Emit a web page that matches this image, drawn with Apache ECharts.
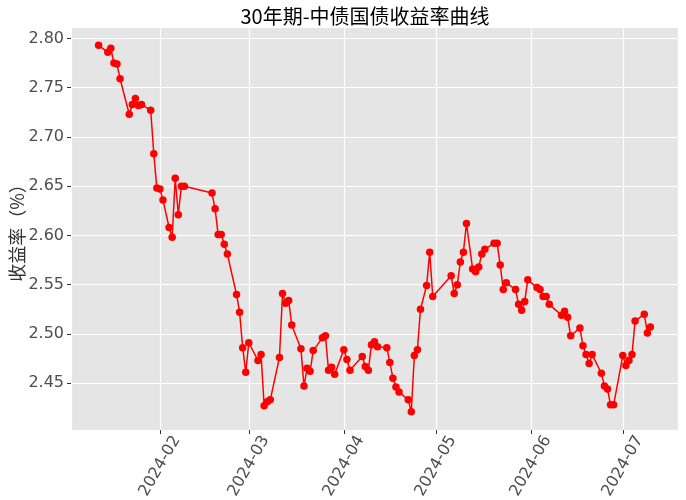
<!DOCTYPE html>
<html lang="zh-CN">
<head>
    <meta charset="UTF-8">
    <title>30年期-中债国债收益率曲线</title>
    <script src="https://cdn.jsdelivr.net/npm/echarts@6.0.0/dist/echarts.min.js"></script>
    <style>
        * { margin: 0; padding: 0; }
        body { background: #ffffff; }
        #chart { width: 686px; height: 500px; }
    </style>
</head>
<body>
    <div id="chart"></div>
    <script>
        // 交易日
        var dates = [
            '2024-01-12', '2024-01-15', '2024-01-16', '2024-01-17', '2024-01-18', '2024-01-19',
            '2024-01-22', '2024-01-23', '2024-01-24', '2024-01-25', '2024-01-26',
            '2024-01-29', '2024-01-30', '2024-01-31', '2024-02-01', '2024-02-02',
            '2024-02-04', '2024-02-05', '2024-02-06', '2024-02-07', '2024-02-08', '2024-02-09',
            '2024-02-18', '2024-02-19', '2024-02-20', '2024-02-21', '2024-02-22', '2024-02-23',
            '2024-02-26', '2024-02-27', '2024-02-28', '2024-02-29', '2024-03-01',
            '2024-03-04', '2024-03-05', '2024-03-06', '2024-03-07', '2024-03-08',
            '2024-03-11', '2024-03-12', '2024-03-13', '2024-03-14', '2024-03-15',
            '2024-03-18', '2024-03-19', '2024-03-20', '2024-03-21', '2024-03-22',
            '2024-03-25', '2024-03-26', '2024-03-27', '2024-03-28', '2024-03-29',
            '2024-04-01', '2024-04-02', '2024-04-03',
            '2024-04-07', '2024-04-08', '2024-04-09', '2024-04-10', '2024-04-11', '2024-04-12',
            '2024-04-15', '2024-04-16', '2024-04-17', '2024-04-18', '2024-04-19',
            '2024-04-22', '2024-04-23', '2024-04-24', '2024-04-25', '2024-04-26',
            '2024-04-28', '2024-04-29', '2024-04-30',
            '2024-05-06', '2024-05-07', '2024-05-08', '2024-05-09', '2024-05-10', '2024-05-11',
            '2024-05-13', '2024-05-14', '2024-05-15', '2024-05-16', '2024-05-17',
            '2024-05-20', '2024-05-21', '2024-05-22', '2024-05-23', '2024-05-24',
            '2024-05-27', '2024-05-28', '2024-05-29', '2024-05-30', '2024-05-31',
            '2024-06-03', '2024-06-04', '2024-06-05', '2024-06-06', '2024-06-07',
            '2024-06-11', '2024-06-12', '2024-06-13', '2024-06-14',
            '2024-06-17', '2024-06-18', '2024-06-19', '2024-06-20', '2024-06-21',
            '2024-06-24', '2024-06-25', '2024-06-26', '2024-06-27', '2024-06-28',
            '2024-07-01', '2024-07-02', '2024-07-03', '2024-07-04', '2024-07-05',
            '2024-07-08', '2024-07-09', '2024-07-10'
        ];

        // 收益率（%）
        var yields = [
            2.793, 2.786, 2.790, 2.775, 2.774, 2.759,
            2.723, 2.733, 2.739, 2.732, 2.733,
            2.727, 2.683, 2.648, 2.647, 2.636,
            2.608, 2.598, 2.658, 2.621, 2.650, 2.650,
            2.643, 2.627, 2.601, 2.601, 2.591, 2.581,
            2.540, 2.522, 2.486, 2.461, 2.491,
            2.473, 2.479, 2.427, 2.431, 2.433,
            2.476, 2.541, 2.531, 2.534, 2.509,
            2.485, 2.447, 2.465, 2.462, 2.483,
            2.496, 2.498, 2.463, 2.466, 2.459,
            2.484, 2.474, 2.463,
            2.477, 2.467, 2.463, 2.489, 2.492, 2.487,
            2.486, 2.471, 2.455, 2.446, 2.441,
            2.433, 2.421, 2.478, 2.484, 2.525,
            2.549, 2.583, 2.538,
            2.559, 2.541, 2.550, 2.573, 2.583, 2.612,
            2.566, 2.563, 2.568, 2.581, 2.586,
            2.592, 2.592, 2.570, 2.545, 2.552,
            2.545, 2.530, 2.524, 2.533, 2.555,
            2.547, 2.545, 2.538, 2.538, 2.530,
            2.519, 2.523, 2.517, 2.498,
            2.506, 2.488, 2.479, 2.470, 2.479,
            2.460, 2.447, 2.444, 2.428, 2.428,
            2.478, 2.468, 2.473, 2.479, 2.513,
            2.520, 2.501, 2.507
        ];

        // 坐标轴范围（左右各留 5%）
        var xRange = ['2024-01-03', '2024-07-19'];
        var yRange = [2.4024, 2.8116];

        function ts(s) {
            var p = s.split('-');
            return Date.UTC(+p[0], +p[1] - 1, +p[2]);
        }

        var seriesData = dates.map(function (d, i) {
            return [ts(d), yields[i]];
        });

        var tickFont = '"DejaVu Sans", "Noto Sans CJK SC", sans-serif';
        var cjkFont = '"Noto Sans CJK SC", sans-serif';

        var chart = echarts.init(document.getElementById('chart'));
        chart.setOption({
            backgroundColor: '#ffffff',
            animation: false,
            useUTC: true,
            title: {
                text: '30年期-中债国债收益率曲线',
                left: 360,
                textAlign: 'center',
                top: 1,
                textStyle: { fontFamily: cjkFont, fontSize: 20, fontWeight: 'normal', color: '#000000' }
            },
            grid: {
                left: 71,
                right: 8,
                top: 27,
                bottom: 70,
                containLabel: false,
                outerBoundsMode: 'none',
                show: true,
                backgroundColor: '#e5e5e5',
                borderWidth: 0
            },
            xAxis: {
                type: 'time',
                min: ts(xRange[0]),
                max: ts(xRange[1]),
                minInterval: 28 * 86400000,
                maxInterval: 31 * 86400000,
                axisLine: { show: false },
                axisTick: { show: true, length: 4, lineStyle: { color: '#333333' } },
                axisLabel: {
                    rotate: 60,
                    align: 'center',
                    verticalAlign: 'middle',
                    fontSize: 16,
                    fontFamily: tickFont,
                    color: '#4d4d4d',
                    margin: 36,
                    showMinLabel: false,
                    showMaxLabel: false,
                    hideOverlap: false,
                    formatter: function (v) {
                        var d = new Date(v);
                        var m = d.getUTCMonth() + 1;
                        return d.getUTCFullYear() + '-' + (m < 10 ? '0' + m : m);
                    }
                },
                splitLine: { show: true, lineStyle: { color: '#ffffff', width: 1.2 } }
            },
            yAxis: {
                type: 'value',
                min: yRange[0],
                max: yRange[1],
                splitNumber: 8,
                name: '收益率（%）',
                nameLocation: 'middle',
                nameGap: 45,
                nameMoveOverlap: false,
                nameTextStyle: { fontFamily: cjkFont, fontSize: 18, color: '#333333' },
                axisLine: { show: false },
                axisTick: { show: true, length: 4, lineStyle: { color: '#333333' } },
                axisLabel: {
                    fontSize: 16,
                    fontFamily: tickFont,
                    color: '#4d4d4d',
                    margin: 7,
                    showMinLabel: false,
                    showMaxLabel: false,
                    formatter: function (v) { return v.toFixed(2); }
                },
                splitLine: { show: true, lineStyle: { color: '#ffffff', width: 1.2 } }
            },
            series: [{
                type: 'line',
                data: seriesData,
                symbol: 'circle',
                symbolSize: 7.5,
                showAllSymbol: true,
                lineStyle: { color: '#ff0000', width: 1.5 },
                itemStyle: { color: '#ff0000' }
            }]
        });
    </script>
</body>
</html>
